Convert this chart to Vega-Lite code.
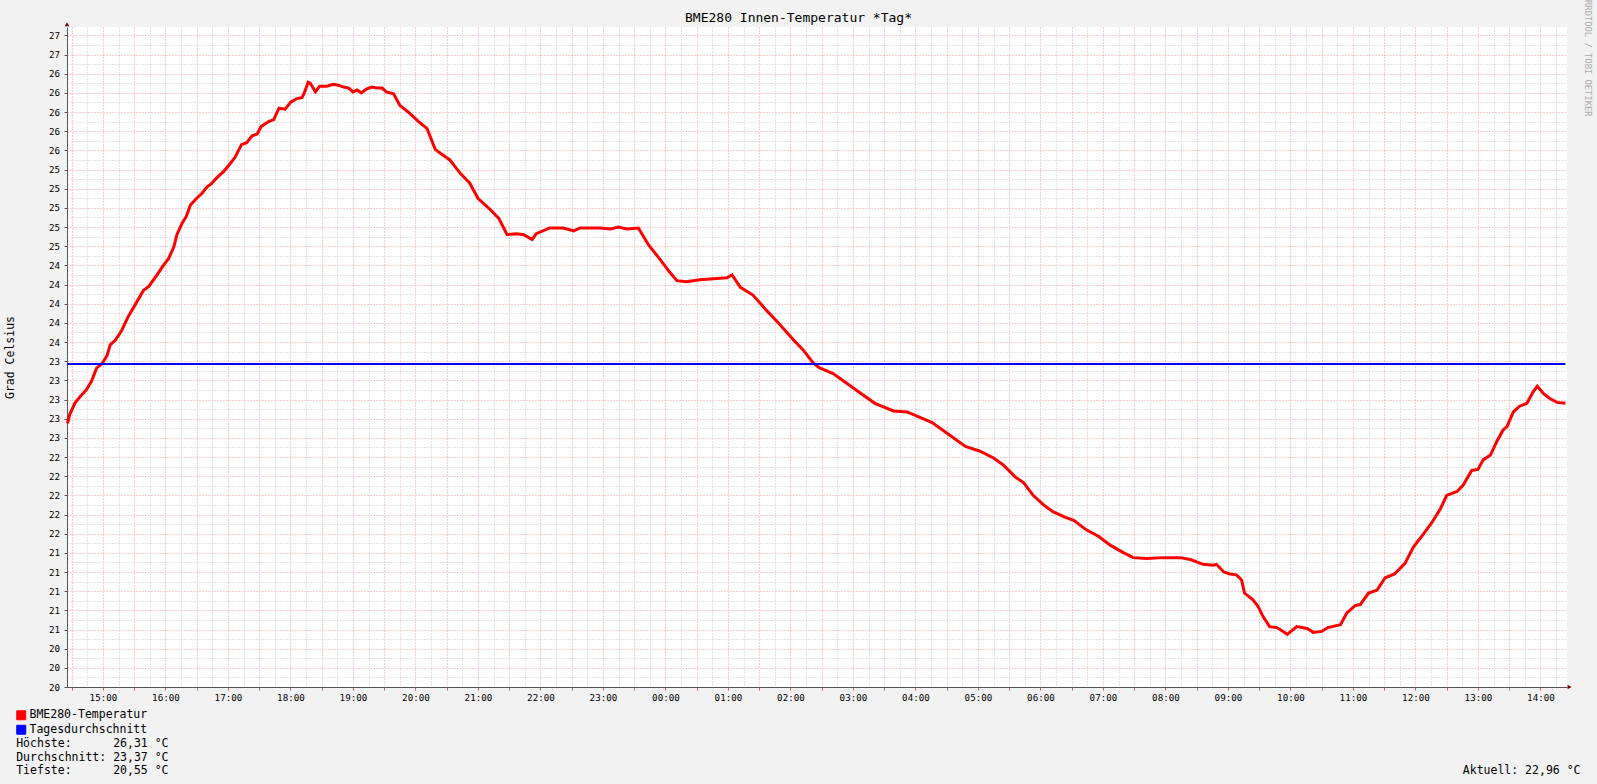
{
  "$schema": "https://vega.github.io/schema/vega-lite/v6.json",
  "width": 1500,
  "height": 660,
  "autosize": {"type": "none"},
  "padding": {"left": 67, "top": 27, "right": 30, "bottom": 97},
  "background": "#F2F2F2",
  "config": {"view": {"stroke": null, "fill": "#FFFFFF"}},
  "title": {"text": "BME280 Innen-Temperatur *Tag*", "font": "DejaVu Sans Mono", "fontSize": 13, "fontWeight": "normal", "color": "#000000", "anchor": "middle", "dx": -18.5, "offset": -25},
  "datasets": {
    "temp": [
      {"t": "2024-01-01T14:26:00Z", "v": 22.75}, {"t": "2024-01-01T14:28:00Z", "v": 22.84}, {"t": "2024-01-01T14:33:00Z", "v": 22.96},
      {"t": "2024-01-01T14:38:00Z", "v": 23.03}, {"t": "2024-01-01T14:44:00Z", "v": 23.10}, {"t": "2024-01-01T14:49:00Z", "v": 23.19},
      {"t": "2024-01-01T14:54:00Z", "v": 23.33}, {"t": "2024-01-01T14:59:00Z", "v": 23.37}, {"t": "2024-01-01T15:04:00Z", "v": 23.46},
      {"t": "2024-01-01T15:07:00Z", "v": 23.57}, {"t": "2024-01-01T15:12:00Z", "v": 23.62}, {"t": "2024-01-01T15:18:00Z", "v": 23.72},
      {"t": "2024-01-01T15:24:00Z", "v": 23.86}, {"t": "2024-01-01T15:31:00Z", "v": 23.99}, {"t": "2024-01-01T15:39:00Z", "v": 24.14},
      {"t": "2024-01-01T15:44:00Z", "v": 24.18}, {"t": "2024-01-01T15:52:00Z", "v": 24.30}, {"t": "2024-01-01T15:58:00Z", "v": 24.40},
      {"t": "2024-01-01T16:03:00Z", "v": 24.47}, {"t": "2024-01-01T16:08:00Z", "v": 24.59}, {"t": "2024-01-01T16:11:00Z", "v": 24.72},
      {"t": "2024-01-01T16:16:00Z", "v": 24.84}, {"t": "2024-01-01T16:20:00Z", "v": 24.91}, {"t": "2024-01-01T16:24:00Z", "v": 25.03},
      {"t": "2024-01-01T16:30:00Z", "v": 25.10}, {"t": "2024-01-01T16:35:00Z", "v": 25.15}, {"t": "2024-01-01T16:40:00Z", "v": 25.22},
      {"t": "2024-01-01T16:44:00Z", "v": 25.25}, {"t": "2024-01-01T16:49:00Z", "v": 25.31}, {"t": "2024-01-01T16:56:00Z", "v": 25.38},
      {"t": "2024-01-01T17:02:00Z", "v": 25.46}, {"t": "2024-01-01T17:07:00Z", "v": 25.53}, {"t": "2024-01-01T17:13:00Z", "v": 25.66},
      {"t": "2024-01-01T17:18:00Z", "v": 25.68}, {"t": "2024-01-01T17:23:00Z", "v": 25.75}, {"t": "2024-01-01T17:28:00Z", "v": 25.77},
      {"t": "2024-01-01T17:32:00Z", "v": 25.85}, {"t": "2024-01-01T17:39:00Z", "v": 25.90}, {"t": "2024-01-01T17:44:00Z", "v": 25.92},
      {"t": "2024-01-01T17:49:00Z", "v": 26.04}, {"t": "2024-01-01T17:55:00Z", "v": 26.03}, {"t": "2024-01-01T18:00:00Z", "v": 26.10},
      {"t": "2024-01-01T18:06:00Z", "v": 26.14}, {"t": "2024-01-01T18:11:00Z", "v": 26.15}, {"t": "2024-01-01T18:13:00Z", "v": 26.19},
      {"t": "2024-01-01T18:17:00Z", "v": 26.31}, {"t": "2024-01-01T18:19:00Z", "v": 26.30}, {"t": "2024-01-01T18:24:00Z", "v": 26.21},
      {"t": "2024-01-01T18:28:00Z", "v": 26.27}, {"t": "2024-01-01T18:35:00Z", "v": 26.27}, {"t": "2024-01-01T18:41:00Z", "v": 26.29},
      {"t": "2024-01-01T18:46:00Z", "v": 26.28}, {"t": "2024-01-01T18:51:00Z", "v": 26.26}, {"t": "2024-01-01T18:56:00Z", "v": 26.25},
      {"t": "2024-01-01T19:00:00Z", "v": 26.21}, {"t": "2024-01-01T19:04:00Z", "v": 26.23}, {"t": "2024-01-01T19:08:00Z", "v": 26.20},
      {"t": "2024-01-01T19:13:00Z", "v": 26.24}, {"t": "2024-01-01T19:18:00Z", "v": 26.26}, {"t": "2024-01-01T19:23:00Z", "v": 26.25},
      {"t": "2024-01-01T19:28:00Z", "v": 26.25}, {"t": "2024-01-01T19:32:00Z", "v": 26.21}, {"t": "2024-01-01T19:39:00Z", "v": 26.19},
      {"t": "2024-01-01T19:45:00Z", "v": 26.07}, {"t": "2024-01-01T19:53:00Z", "v": 26.00}, {"t": "2024-01-01T20:03:00Z", "v": 25.90},
      {"t": "2024-01-01T20:11:00Z", "v": 25.83}, {"t": "2024-01-01T20:19:00Z", "v": 25.61}, {"t": "2024-01-01T20:24:00Z", "v": 25.57},
      {"t": "2024-01-01T20:33:00Z", "v": 25.50}, {"t": "2024-01-01T20:43:00Z", "v": 25.36}, {"t": "2024-01-01T20:52:00Z", "v": 25.26},
      {"t": "2024-01-01T21:00:00Z", "v": 25.10}, {"t": "2024-01-01T21:12:00Z", "v": 24.98}, {"t": "2024-01-01T21:20:00Z", "v": 24.89},
      {"t": "2024-01-01T21:28:00Z", "v": 24.72}, {"t": "2024-01-01T21:37:00Z", "v": 24.73}, {"t": "2024-01-01T21:44:00Z", "v": 24.72},
      {"t": "2024-01-01T21:52:00Z", "v": 24.67}, {"t": "2024-01-01T21:56:00Z", "v": 24.73}, {"t": "2024-01-01T22:09:00Z", "v": 24.79},
      {"t": "2024-01-01T22:22:00Z", "v": 24.79}, {"t": "2024-01-01T22:32:00Z", "v": 24.76}, {"t": "2024-01-01T22:38:00Z", "v": 24.79},
      {"t": "2024-01-01T22:57:00Z", "v": 24.79}, {"t": "2024-01-01T23:07:00Z", "v": 24.78}, {"t": "2024-01-01T23:15:00Z", "v": 24.80},
      {"t": "2024-01-01T23:23:00Z", "v": 24.78}, {"t": "2024-01-01T23:34:00Z", "v": 24.79}, {"t": "2024-01-01T23:44:00Z", "v": 24.61},
      {"t": "2024-01-01T23:55:00Z", "v": 24.46}, {"t": "2024-01-02T00:04:00Z", "v": 24.33}, {"t": "2024-01-02T00:11:00Z", "v": 24.24},
      {"t": "2024-01-02T00:20:00Z", "v": 24.23}, {"t": "2024-01-02T00:33:00Z", "v": 24.25}, {"t": "2024-01-02T00:46:00Z", "v": 24.26},
      {"t": "2024-01-02T00:59:00Z", "v": 24.27}, {"t": "2024-01-02T01:04:00Z", "v": 24.30}, {"t": "2024-01-02T01:12:00Z", "v": 24.17},
      {"t": "2024-01-02T01:24:00Z", "v": 24.09}, {"t": "2024-01-02T01:37:00Z", "v": 23.93}, {"t": "2024-01-02T01:44:00Z", "v": 23.85},
      {"t": "2024-01-02T01:50:00Z", "v": 23.78}, {"t": "2024-01-02T02:03:00Z", "v": 23.62}, {"t": "2024-01-02T02:12:00Z", "v": 23.52},
      {"t": "2024-01-02T02:22:00Z", "v": 23.38}, {"t": "2024-01-02T02:28:00Z", "v": 23.33}, {"t": "2024-01-02T02:41:00Z", "v": 23.27},
      {"t": "2024-01-02T02:54:00Z", "v": 23.17}, {"t": "2024-01-02T03:08:00Z", "v": 23.06}, {"t": "2024-01-02T03:21:00Z", "v": 22.96},
      {"t": "2024-01-02T03:39:00Z", "v": 22.88}, {"t": "2024-01-02T03:52:00Z", "v": 22.87}, {"t": "2024-01-02T04:01:00Z", "v": 22.83},
      {"t": "2024-01-02T04:16:00Z", "v": 22.76}, {"t": "2024-01-02T04:30:00Z", "v": 22.65}, {"t": "2024-01-02T04:48:00Z", "v": 22.51},
      {"t": "2024-01-02T05:02:00Z", "v": 22.46}, {"t": "2024-01-02T05:15:00Z", "v": 22.39}, {"t": "2024-01-02T05:24:00Z", "v": 22.32},
      {"t": "2024-01-02T05:36:00Z", "v": 22.19}, {"t": "2024-01-02T05:44:00Z", "v": 22.13}, {"t": "2024-01-02T05:53:00Z", "v": 22.00},
      {"t": "2024-01-02T06:03:00Z", "v": 21.90}, {"t": "2024-01-02T06:12:00Z", "v": 21.83}, {"t": "2024-01-02T06:24:00Z", "v": 21.77},
      {"t": "2024-01-02T06:32:00Z", "v": 21.74}, {"t": "2024-01-02T06:44:00Z", "v": 21.64}, {"t": "2024-01-02T06:56:00Z", "v": 21.57},
      {"t": "2024-01-02T07:07:00Z", "v": 21.48}, {"t": "2024-01-02T07:20:00Z", "v": 21.40}, {"t": "2024-01-02T07:29:00Z", "v": 21.35},
      {"t": "2024-01-02T07:42:00Z", "v": 21.34}, {"t": "2024-01-02T07:58:00Z", "v": 21.35}, {"t": "2024-01-02T08:14:00Z", "v": 21.35},
      {"t": "2024-01-02T08:24:00Z", "v": 21.33}, {"t": "2024-01-02T08:36:00Z", "v": 21.28}, {"t": "2024-01-02T08:46:00Z", "v": 21.27},
      {"t": "2024-01-02T08:49:00Z", "v": 21.28}, {"t": "2024-01-02T08:56:00Z", "v": 21.20}, {"t": "2024-01-02T09:02:00Z", "v": 21.18},
      {"t": "2024-01-02T09:08:00Z", "v": 21.17}, {"t": "2024-01-02T09:13:00Z", "v": 21.12}, {"t": "2024-01-02T09:16:00Z", "v": 20.98},
      {"t": "2024-01-02T09:24:00Z", "v": 20.91}, {"t": "2024-01-02T09:29:00Z", "v": 20.84}, {"t": "2024-01-02T09:34:00Z", "v": 20.73},
      {"t": "2024-01-02T09:40:00Z", "v": 20.63}, {"t": "2024-01-02T09:47:00Z", "v": 20.62}, {"t": "2024-01-02T09:53:00Z", "v": 20.58},
      {"t": "2024-01-02T09:57:00Z", "v": 20.55}, {"t": "2024-01-02T10:06:00Z", "v": 20.63}, {"t": "2024-01-02T10:16:00Z", "v": 20.61},
      {"t": "2024-01-02T10:22:00Z", "v": 20.57}, {"t": "2024-01-02T10:30:00Z", "v": 20.58}, {"t": "2024-01-02T10:36:00Z", "v": 20.62},
      {"t": "2024-01-02T10:48:00Z", "v": 20.65}, {"t": "2024-01-02T10:54:00Z", "v": 20.77}, {"t": "2024-01-02T11:02:00Z", "v": 20.85},
      {"t": "2024-01-02T11:07:00Z", "v": 20.86}, {"t": "2024-01-02T11:15:00Z", "v": 20.98}, {"t": "2024-01-02T11:23:00Z", "v": 21.01},
      {"t": "2024-01-02T11:31:00Z", "v": 21.14}, {"t": "2024-01-02T11:40:00Z", "v": 21.18}, {"t": "2024-01-02T11:50:00Z", "v": 21.29},
      {"t": "2024-01-02T11:58:00Z", "v": 21.46}, {"t": "2024-01-02T12:08:00Z", "v": 21.60}, {"t": "2024-01-02T12:16:00Z", "v": 21.72},
      {"t": "2024-01-02T12:24:00Z", "v": 21.86}, {"t": "2024-01-02T12:30:00Z", "v": 22.00}, {"t": "2024-01-02T12:40:00Z", "v": 22.04},
      {"t": "2024-01-02T12:46:00Z", "v": 22.11}, {"t": "2024-01-02T12:54:00Z", "v": 22.26}, {"t": "2024-01-02T13:00:00Z", "v": 22.27},
      {"t": "2024-01-02T13:05:00Z", "v": 22.37}, {"t": "2024-01-02T13:12:00Z", "v": 22.42}, {"t": "2024-01-02T13:18:00Z", "v": 22.56},
      {"t": "2024-01-02T13:24:00Z", "v": 22.68}, {"t": "2024-01-02T13:28:00Z", "v": 22.72}, {"t": "2024-01-02T13:34:00Z", "v": 22.87},
      {"t": "2024-01-02T13:40:00Z", "v": 22.93}, {"t": "2024-01-02T13:47:00Z", "v": 22.96}, {"t": "2024-01-02T13:53:00Z", "v": 23.08},
      {"t": "2024-01-02T13:57:00Z", "v": 23.14}, {"t": "2024-01-02T14:03:00Z", "v": 23.06}, {"t": "2024-01-02T14:09:00Z", "v": 23.01},
      {"t": "2024-01-02T14:16:00Z", "v": 22.97}, {"t": "2024-01-02T14:24:00Z", "v": 22.96}
    ],
    "avg": [
      {"t": "2024-01-01T14:25:30Z", "v": 23.37},
      {"t": "2024-01-02T14:24:00Z", "v": 23.37}
    ],
    "note": [
      {"t": "2024-01-02T14:25:30Z", "v": 26.56, "label": "RRDTOOL / TOBI OETIKER"}
    ],
    "arrows": [
      {"t": "2024-01-01T14:25:30Z", "v": 26.915, "shape": "triangle-up"},
      {"t": "2024-01-02T14:28:00Z", "v": 20.0, "shape": "triangle-right"}
    ]
  },
  "layer": [
    {
      "data": {"name": "temp"},
      "mark": {"type": "line", "strokeWidth": 3},
      "encoding": {
        "x": {
          "field": "t", "type": "temporal",
          "scale": {"type": "utc", "domain": [{"year": 2024, "month": 1, "date": 1, "hours": 14, "minutes": 25, "seconds": 30, "utc": true}, {"year": 2024, "month": 1, "date": 2, "hours": 14, "minutes": 25, "seconds": 30, "utc": true}], "nice": false},
          "axis": {
            "tickCount": 144, "grid": true,
            "gridColor": {"condition": {"test": "utcminutes(datum.value) % 30 == 0", "value": "#EE9A9A"}, "value": "#C8C8C8"},
            "gridDash": [1, 2], "gridWidth": 1,
            "labelExpr": "utcminutes(datum.value) == 0 ? utcFormat(datum.value, '%H:%M') : ''", "labelOverlap": false, "labelFlush": false,
            "labelFont": "DejaVu Sans Mono", "labelFontSize": 9.2, "labelColor": "#000000", "labelPadding": 3.3,
            "ticks": true, "tickSize": 3, "tickColor": "#D06060",
            "tickOpacity": {"condition": {"test": "utcminutes(datum.value) % 30 == 0", "value": 1}, "value": 0},
            "domain": true, "domainColor": "#555555", "domainWidth": 1,
            "title": "Aktuell: 22,96 °C", "titleFont": "DejaVu Sans Mono", "titleFontSize": 11.5, "titleFontWeight": "normal", "titleColor": "#000000",
            "titleX": 1513, "titleY": 83, "titleAlign": "right", "titleBaseline": "middle", "titleAngle": 0
          }
        },
        "y": {
          "field": "v", "type": "quantitative",
          "scale": {"domain": [20, 26.887], "nice": false, "zero": false},
          "axis": {
            "grid": true, "tickCount": 200,
            "values": [20, 20.1, 20.2, 20.3, 20.4, 20.5, 20.6, 20.7, 20.8, 20.9, 21, 21.1, 21.2, 21.3, 21.4, 21.5, 21.6, 21.7, 21.8, 21.9, 22, 22.1, 22.2, 22.3, 22.4, 22.5, 22.6, 22.7, 22.8, 22.9, 23, 23.1, 23.2, 23.3, 23.4, 23.5, 23.6, 23.7, 23.8, 23.9, 24, 24.1, 24.2, 24.3, 24.4, 24.5, 24.6, 24.7, 24.8, 24.9, 25, 25.1, 25.2, 25.3, 25.4, 25.5, 25.6, 25.7, 25.8, 25.9, 26, 26.1, 26.2, 26.3, 26.4, 26.5, 26.6, 26.7, 26.8],
            "gridColor": {"condition": {"test": "round(datum.value * 10) % 2 == 0", "value": "#EE9A9A"}, "value": "#C8C8C8"},
            "gridDash": [1, 2], "gridWidth": 1,
            "labelExpr": "round(datum.value * 10) % 2 == 0 ? format(datum.value, '.0f') : ''",
            "labelFont": "DejaVu Sans Mono", "labelFontSize": 9.2, "labelColor": "#000000", "labelPadding": 4.5, "labelOverlap": false, "labelFlush": false,
            "ticks": true, "tickSize": 3, "tickColor": "#555555",
            "tickOpacity": {"condition": {"test": "round(datum.value * 10) % 2 == 0", "value": 1}, "value": 0},
            "domain": true, "domainColor": "#555555", "domainWidth": 1,
            "title": "Grad Celsius", "titleFont": "DejaVu Sans Mono", "titleFontSize": 11.5, "titleFontWeight": "normal", "titleColor": "#000000",
            "titleAngle": 270, "titleX": -57, "titleY": 330, "titleAlign": "center", "titleBaseline": "middle"
          }
        },
        "color": {
          "datum": "BME280-Temperatur", "type": "nominal",
          "scale": {"domain": ["BME280-Temperatur", "Tagesdurchschnitt", "Höchste:\u00a0\u00a0\u00a0\u00a0\u00a0\u00a026,31\u00a0°C", "Durchschnitt:\u00a023,37\u00a0°C", "Tiefste:\u00a0\u00a0\u00a0\u00a0\u00a0\u00a020,55\u00a0°C"], "range": ["#FF0000", "#0000FF", "#F2F2F2", "#F2F2F2", "#F2F2F2"]},
          "legend": {
            "orient": "none", "legendX": -51.5, "legendY": 682.5, "direction": "vertical", "title": null, "padding": 0, "rowPadding": 0.5,
            "labelFont": "DejaVu Sans Mono", "labelFontSize": 11.5, "labelColor": "#000000", "labelLimit": 400, "labelOffset": 2.5,
            "symbolType": "square", "symbolSize": 81,
            "encode": {
              "symbols": {"update": {"fill": {"scale": "color", "field": "value"}, "stroke": {"value": "#000000"}, "strokeWidth": {"value": 1}, "opacity": {"signal": "datum.index < 2 ? 1 : 0"}}},
              "labels": {"update": {"dx": {"signal": "datum.index < 2 ? 0 : -13.3"}}}
            }
          }
        }
      }
    },
    {
      "data": {"name": "avg"},
      "mark": {"type": "line", "strokeWidth": 2},
      "encoding": {
        "x": {"field": "t", "type": "temporal"},
        "y": {"field": "v", "type": "quantitative"},
        "color": {"datum": "Tagesdurchschnitt", "type": "nominal"}
      }
    },
    {
      "data": {"name": "note"},
      "mark": {"type": "text", "angle": 90, "align": "center", "baseline": "middle", "dy": -21, "font": "DejaVu Sans Mono", "fontSize": 8.8, "color": "#ABABAB"},
      "encoding": {
        "x": {"field": "t", "type": "temporal"},
        "y": {"field": "v", "type": "quantitative"},
        "text": {"field": "label"}
      }
    },
    {
      "data": {"name": "arrows"},
      "mark": {"type": "point", "filled": true, "color": "#7F0000", "size": 22, "opacity": 1},
      "encoding": {
        "x": {"field": "t", "type": "temporal"},
        "y": {"field": "v", "type": "quantitative"},
        "shape": {"field": "shape", "type": "nominal", "scale": null}
      }
    }
  ]
}
